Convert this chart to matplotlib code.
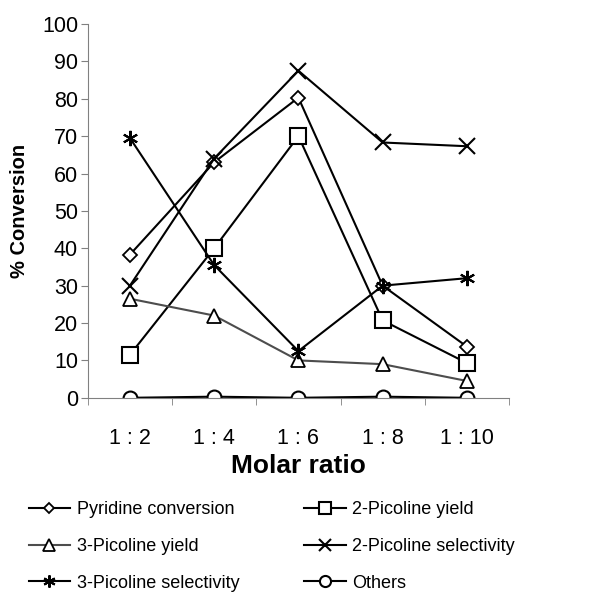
import matplotlib.pyplot as plt
import numpy as np

plt.rcParams['font.family'] = ['Liberation Sans', 'DejaVu Sans']

# data
ratios = ['1 : 2', '1 : 4', '1 : 6', '1 : 8', '1 : 10']
pyridine_conv = [38.3, 63.0, 80.3, 30.0, 13.7]
pic2_yield = [11.5, 40.0, 70.0, 20.7, 9.3]
pic3_yield = [26.5, 22.0, 10.0, 9.0, 4.5]
pic2_sel = [30.0, 64.0, 87.5, 68.3, 67.3]
pic3_sel = [69.5, 35.5, 12.5, 30.0, 32.0]
others = [0.0, 0.3, 0.0, 0.3, 0.0]

fig = plt.figure(figsize=(6.14, 6.0), dpi=100)
ax = fig.add_axes([0.143, 0.337, 0.686, 0.623])

x = np.arange(len(ratios))

ax.plot(x, pyridine_conv, color='black', lw=1.5, marker='D', ms=7,
        mfc='white', mec='black', mew=1.3, label='Pyridine conversion')
ax.plot(x, pic2_yield, color='black', lw=1.5, marker='s', ms=11,
        mfc='white', mec='black', mew=1.5, label='2-Picoline yield')
ax.plot(x, pic3_yield, color='#4d4d4d', lw=1.5, marker='^', ms=10,
        mfc='white', mec='black', mew=1.3, label='3-Picoline yield')
ax.plot(x, pic2_sel, color='black', lw=1.5, marker='x', ms=11,
        mew=1.5, label='2-Picoline selectivity')
ax.plot(x, pic3_sel, color='black', lw=1.5, marker=(6, 2, 0), ms=11,
        mew=1.5, label='3-Picoline selectivity')
ax.plot(x, others, color='black', lw=1.5, marker='o', ms=10,
        mfc='white', mec='black', mew=1.5, label='Others')

ax.set_xlim(-0.5, len(ratios) - 0.5)
ax.set_ylim(0, 100)
ax.set_yticks(range(0, 101, 10))
ax.set_xticks(x)
ax.set_xticklabels(ratios, fontsize=15.5)
ax.set_xticks(np.arange(-0.5, len(ratios), 1), minor=True)
ax.tick_params(axis='x', which='major', length=0, pad=22)
ax.tick_params(axis='x', which='minor', length=5, color='#808080')
ax.tick_params(axis='y', length=5, color='#808080', labelsize=15.5, pad=2)

for s in ['top', 'right']:
    ax.spines[s].set_visible(False)
ax.spines['left'].set_color('#808080')
ax.spines['bottom'].set_color('#808080')

ax.set_xlabel('Molar ratio', fontsize=19, fontweight='bold', labelpad=3)
ax.set_ylabel('% Conversion', fontsize=14.5, fontweight='bold', labelpad=9)

# legend filled row by row like the original
handles, labels = ax.get_legend_handles_labels()
order = [0, 2, 4, 1, 3, 5]
fig.legend([handles[i] for i in order], [labels[i] for i in order],
           loc='upper left', bbox_to_anchor=(0.035, 0.177), ncol=2,
           frameon=False, fontsize=13, handlelength=2.3,
           labelspacing=1.1, columnspacing=3.6, handletextpad=0.35,
           markerscale=0.8, borderaxespad=0)

fig.savefig('out.png', dpi=100, facecolor='white')
